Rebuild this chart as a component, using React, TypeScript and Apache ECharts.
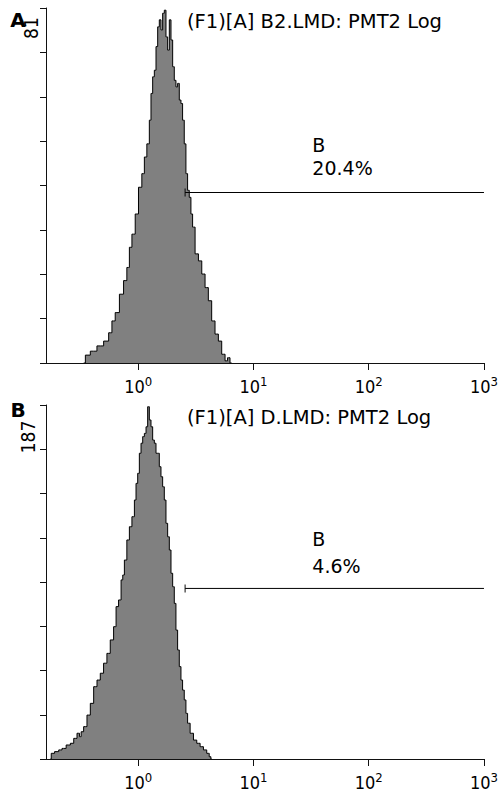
import React, { useEffect, useRef } from "react";
import * as echarts from "echarts";

// ---- data (x values are log10 of fluorescence intensity) ----
const xTicks = [0, 1, 2, 3];
const xMinLog = -0.8;
const xMaxLog = 3;

const panelLetters = ["A", "B"];
const panelTitles = ["(F1)[A] B2.LMD: PMT2 Log", "(F1)[A] D.LMD: PMT2 Log"];
const yMaxes = [81, 187];

const gateNames = ["B", "B"];
const gatePercents = ["20.4%", "4.6%"];
const gateStartLog = [0.407, 0.407];
const gateEndLog = [3, 3];
const gateLevels = [38.9, 90.1];
const gateLabelLog = [1.515, 1.515];

const histALog = [-0.473, -0.444, -0.387, -0.329, -0.271, -0.242, -0.214, -0.185, -0.141, -0.113, -0.084, -0.069, -0.04, -0.012, 0.017, 0.046, 0.061, 0.089, 0.104, 0.118, 0.133, 0.147, 0.162, 0.176, 0.19, 0.205, 0.219, 0.234, 0.248, 0.263, 0.277, 0.292, 0.306, 0.32, 0.335, 0.349, 0.364, 0.378, 0.392, 0.407, 0.421, 0.436, 0.45, 0.465, 0.479, 0.508, 0.537, 0.566, 0.594, 0.623, 0.652, 0.681, 0.71, 0.739, 0.768, 0.782, 0.811];
const histACount = [0, 1.8, 2.7, 3.9, 5.0, 6.9, 9.6, 11.5, 15.7, 18.8, 21.8, 26.4, 29.4, 34.0, 40.1, 43.2, 47.0, 50.0, 55.4, 61.5, 65.3, 66.8, 72.2, 76.7, 78.3, 76.0, 79.8, 80.5, 74.4, 71.4, 78.3, 73.7, 67.6, 64.5, 63.0, 63.8, 60.0, 59.2, 55.4, 50.0, 43.2, 39.4, 37.8, 34.0, 31.0, 24.9, 23.3, 20.3, 17.2, 14.2, 9.6, 6.6, 5.0, 2.0, 0.5, 1.2, 0];

const histBLog = [-0.762, -0.747, -0.704, -0.675, -0.647, -0.603, -0.574, -0.545, -0.517, -0.502, -0.488, -0.459, -0.43, -0.401, -0.372, -0.343, -0.315, -0.286, -0.257, -0.228, -0.199, -0.185, -0.156, -0.141, -0.127, -0.113, -0.084, -0.069, -0.04, -0.026, -0.012, 0.003, 0.017, 0.032, 0.046, 0.061, 0.075, 0.089, 0.104, 0.118, 0.133, 0.147, 0.162, 0.176, 0.19, 0.205, 0.219, 0.234, 0.248, 0.263, 0.277, 0.292, 0.306, 0.32, 0.335, 0.349, 0.364, 0.378, 0.392, 0.407, 0.421, 0.436, 0.465, 0.494, 0.522, 0.552, 0.58, 0.609, 0.623, 0.638];
const histBCount = [0, 3.0, 3.9, 4.8, 5.6, 7.4, 8.3, 10.9, 13.6, 11.8, 14.4, 17.1, 23.2, 29.4, 38.2, 41.7, 45.3, 50.6, 55.8, 62.9, 69.9, 80.5, 84.0, 94.6, 97.2, 105.1, 115.7, 122.7, 128.0, 136.8, 145.6, 150.9, 161.5, 166.8, 170.3, 172.0, 175.5, 186.1, 179.1, 175.5, 168.5, 166.8, 161.5, 161.5, 154.4, 149.1, 143.8, 136.8, 124.5, 117.4, 110.4, 98.1, 91.0, 82.2, 68.1, 57.6, 48.8, 41.7, 36.4, 31.2, 24.1, 18.9, 13.6, 10.0, 8.3, 6.5, 4.8, 3.0, 1.2, 0];

const histLogs = [histALog, histBLog];
const histCounts = [histACount, histBCount];

// ---- layout / style ----
const FONT_C = "'DejaVu Sans Condensed', 'DejaVu Sans', sans-serif";
const FONT = "'DejaVu Sans', sans-serif";
const W = 501;
const H = 794;
const grids = [
  { left: 46, top: 8, width: 438, height: 355 },
  { left: 46, top: 405, width: 438, height: 354 },
];
const titlePos = [
  { x: 187, y: 21 },
  { x: 187, y: 417 },
];
const letterPos = [
  { x: 18, y: 20 },
  { x: 18, y: 410 },
];
const yMaxLabelPos = [
  { x: 31, y: 28 },
  { x: 27.5, y: 437 },
];
const gateLabelGap = [12.5, 8.5];
const gateLineHeight = [23, 27];

function buildOption() {
  const xAxis: any[] = [];
  const yAxis: any[] = [];
  const series: any[] = [];
  const graphic: any[] = [];

  grids.forEach((g, i) => {
    xAxis.push({
      type: "value",
      gridIndex: i,
      min: xMinLog,
      max: xMaxLog,
      axisLine: { show: true, onZero: false, lineStyle: { color: "#111", width: 1 } },
      axisTick: { show: true, customValues: xTicks, length: 7, lineStyle: { color: "#111" } },
      splitLine: { show: false },
      axisLabel: {
        show: true,
        customValues: xTicks,
        margin: 12,
        formatter: (v: number) => `{b|10}{s|${v}}`,
        rich: {
          b: { fontSize: 18, fontFamily: FONT_C, color: "#000", lineHeight: 22 },
          s: { fontSize: 13, fontFamily: FONT_C, color: "#000", verticalAlign: "top", lineHeight: 13 },
        },
      },
    });
    yAxis.push({
      type: "value",
      gridIndex: i,
      min: 0,
      max: yMaxes[i],
      interval: yMaxes[i] / 8,
      axisLine: { show: true, onZero: false, lineStyle: { color: "#111", width: 1 } },
      axisTick: { show: true, length: 6, lineStyle: { color: "#111" } },
      axisLabel: { show: false },
      splitLine: { show: false },
    });

    series.push({
      type: "line",
      xAxisIndex: i,
      yAxisIndex: i,
      data: histLogs[i].map((x, k) => [x, histCounts[i][k]]),
      step: "middle",
      symbol: "none",
      lineStyle: { color: "#000", width: 1 },
      areaStyle: { color: "#808080", opacity: 1 },
      z: 2,
    });
    series.push({
      type: "line",
      xAxisIndex: i,
      yAxisIndex: i,
      data: [
        [gateStartLog[i], gateLevels[i]],
        [gateEndLog[i], gateLevels[i]],
      ],
      symbol: "none",
      lineStyle: { color: "#000", width: 1 },
      z: 3,
    });
    series.push({
      type: "scatter",
      xAxisIndex: i,
      yAxisIndex: i,
      data: [[gateStartLog[i], gateLevels[i]]],
      symbol: "rect",
      symbolSize: [1.2, 8],
      itemStyle: { color: "#000" },
      z: 3,
    });
    series.push({
      type: "scatter",
      xAxisIndex: i,
      yAxisIndex: i,
      data: [[gateLabelLog[i], gateLevels[i]]],
      symbolSize: 1,
      itemStyle: { color: "rgba(0,0,0,0)" },
      emphasis: { disabled: true },
      label: {
        show: true,
        formatter: `${gateNames[i]}\n${gatePercents[i]}`,
        position: [0, -gateLabelGap[i]],
        align: "left",
        verticalAlign: "bottom",
        fontSize: 19,
        lineHeight: gateLineHeight[i],
        fontFamily: FONT,
        color: "#000",
        opacity: 1,
        textBorderWidth: 0,
      },
      z: 4,
    });

    graphic.push({
      type: "text",
      x: titlePos[i].x,
      y: titlePos[i].y,
      style: {
        text: panelTitles[i],
        fontSize: 19.5,
        fontFamily: FONT,
        fill: "#000",
        textAlign: "left",
        textVerticalAlign: "middle",
      },
    });
    graphic.push({
      type: "text",
      x: letterPos[i].x,
      y: letterPos[i].y,
      style: {
        text: panelLetters[i],
        fontSize: 20,
        fontWeight: 900,
        fontFamily: FONT,
        fill: "#000",
        textAlign: "center",
        textVerticalAlign: "middle",
      },
    });
    graphic.push({
      type: "text",
      x: yMaxLabelPos[i].x,
      y: yMaxLabelPos[i].y,
      rotation: Math.PI / 2,
      style: {
        text: String(yMaxes[i]),
        fontSize: 19,
        fontFamily: FONT_C,
        fill: "#000",
        textAlign: "center",
        textVerticalAlign: "middle",
      },
    });
  });

  return {
    animation: false,
    backgroundColor: "#fff",
    grid: grids.map((g) => ({ ...g, containLabel: false })),
    xAxis,
    yAxis,
    series,
    graphic,
  };
}

export default function App() {
  const ref = useRef<HTMLDivElement>(null);
  useEffect(() => {
    if (!ref.current) return;
    const chart = echarts.init(ref.current, null, { renderer: "svg" });
    chart.setOption(buildOption() as any);
    return () => chart.dispose();
  }, []);
  return (
    <div
      ref={ref}
      style={{ position: "fixed", left: 0, top: 0, width: W, height: H, background: "#fff" }}
    />
  );
}
